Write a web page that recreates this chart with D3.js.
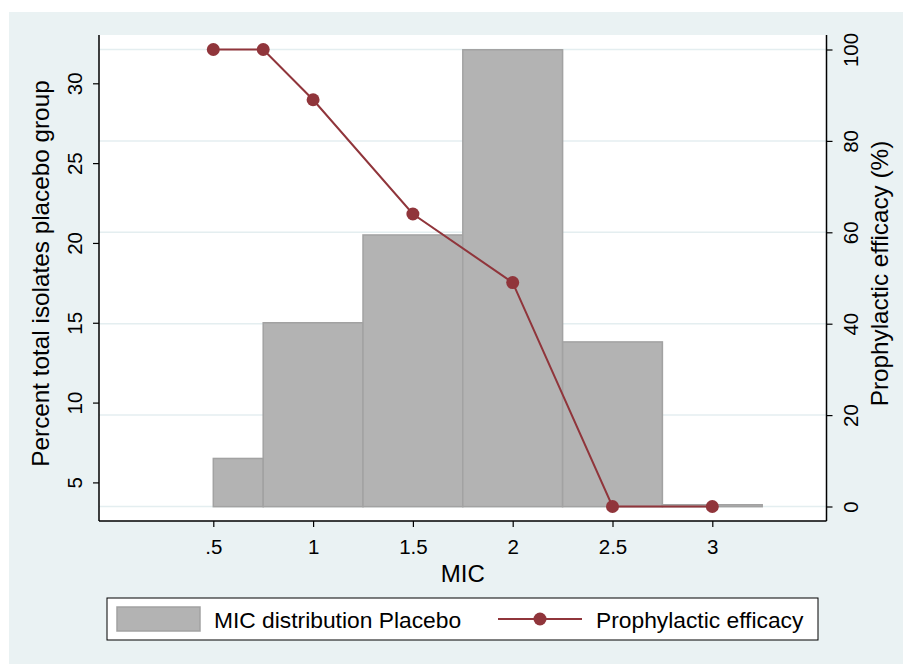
<!DOCTYPE html>
<html>
<head>
<meta charset="utf-8">
<script src="https://cdn.jsdelivr.net/npm/d3@7"></script>
<style>
  body { margin: 0; background: #fff; }
  text { font-family: "Liberation Sans", Arial, Helvetica, sans-serif; fill: #000; }
</style>
</head>
<body>
<div class="chart"></div>
<script>
// data
var micValues = [0.5, 1, 1.5, 2, 2.5, 3];
var barStart = [0.5, 0.75, 1.25, 1.75, 2.25, 2.75];
var barEnd = [0.75, 1.25, 1.75, 2.25, 2.75, 3.25];
var percentIsolates = [6.5, 15.0, 20.5, 32.1, 13.8, 3.6];
var barBase = 3.48;
var efficacyMic = [0.5, 0.75, 1, 1.5, 2, 2.5, 3];
var efficacy = [100, 100, 89, 64, 49, 0, 0];
var xTicks = [0.5, 1, 1.5, 2, 2.5, 3];
var xTickLabels = [".5", "1", "1.5", "2", "2.5", "3"];
var leftTicks = [5, 10, 15, 20, 25, 30];
var rightTicks = [0, 20, 40, 60, 80, 100];

var svgWidth = 903;
var svgHeight = 664;
var plot = {left: 99, right: 826.5, top: 35, bottom: 521};
var titleMid = 273.5;

var svg = d3.select('.chart')
    .append('svg')
    .attr('width', svgWidth)
    .attr('height', svgHeight);

// graph region
svg.append('rect')
    .attr('x', 9).attr('y', 12)
    .attr('width', svgWidth - 9).attr('height', svgHeight - 12)
    .attr('fill', '#eaf2f3');

svg.append('rect')
    .attr('x', plot.left).attr('y', plot.top)
    .attr('width', plot.right - plot.left).attr('height', plot.bottom - plot.top)
    .attr('fill', '#fff');

// scales
var xScale = d3.scaleLinear().domain([0.5, 3]).range([213.3, 712.3]);
var yLeft = d3.scaleLinear().domain([5, 30]).range([482.4, 83.3]);
var yRight = d3.scaleLinear().domain([0, 100]).range([506.5, 49.5]);

// grid from right axis
svg.append('g').selectAll('line')
    .data(rightTicks)
    .enter()
    .append('line')
    .attr('x1', plot.left).attr('x2', plot.right)
    .attr('y1', function(d) { return yRight(d); })
    .attr('y2', function(d) { return yRight(d); })
    .attr('stroke', '#e4eef0')
    .attr('stroke-width', 1.5);

// histogram bars
var bars = percentIsolates.map(function(v, i) {
    return {x0: barStart[i], x1: barEnd[i], value: v};
});
svg.append('g').selectAll('rect')
    .data(bars)
    .enter()
    .append('rect')
    .attr('x', function(d) { return xScale(d.x0); })
    .attr('width', function(d) { return xScale(d.x1) - xScale(d.x0); })
    .attr('y', function(d) { return yLeft(d.value); })
    .attr('height', function(d) { return yLeft(barBase) - yLeft(d.value); })
    .attr('fill', '#b3b3b3')
    .attr('stroke', '#a2a2a2')
    .attr('stroke-width', 1.5);

// efficacy line
var pts = efficacy.map(function(v, i) { return {x: efficacyMic[i], y: v}; });
var line = d3.line()
    .x(function(d) { return xScale(d.x); })
    .y(function(d) { return yRight(d.y); });
svg.append('path')
    .datum(pts)
    .attr('d', line)
    .attr('fill', 'none')
    .attr('stroke', '#90353b')
    .attr('stroke-width', 2);
svg.append('g').selectAll('circle')
    .data(pts)
    .enter()
    .append('circle')
    .attr('cx', function(d) { return xScale(d.x); })
    .attr('cy', function(d) { return yRight(d.y); })
    .attr('r', 6.5)
    .attr('fill', '#90353b');

// axes
var leftAxis = d3.axisLeft(yLeft).tickValues(leftTicks).tickSize(6).tickPadding(5);
var rightAxis = d3.axisRight(yRight).tickValues(rightTicks).tickSize(6).tickPadding(5);
var bottomAxis = d3.axisBottom(xScale).tickValues(xTicks)
    .tickFormat(function(d, i) { return xTickLabels[i]; })
    .tickSize(6).tickPadding(12);

var gl = svg.append('g')
    .attr('transform', 'translate(' + plot.left + ',0)')
    .call(leftAxis);
gl.select('.domain').attr('d', 'M0,' + plot.top + 'V' + plot.bottom);

var gr = svg.append('g')
    .attr('transform', 'translate(' + plot.right + ',0)')
    .call(rightAxis);
gr.select('.domain').attr('d', 'M0,' + plot.top + 'V' + plot.bottom);

var gb = svg.append('g')
    .attr('transform', 'translate(0,' + plot.bottom + ')')
    .call(bottomAxis);
gb.select('.domain').attr('d', 'M' + plot.left + ',0H' + plot.right);

svg.selectAll('.tick line').attr('stroke', '#000').attr('stroke-width', 1.2);
svg.selectAll('.domain').attr('stroke', '#000').attr('stroke-width', 1.5);
svg.selectAll('.tick text')
    .attr('font-family', '"Liberation Sans", Arial, sans-serif')
    .attr('font-size', 20.5)
    .attr('fill', '#000');

// rotate vertical tick labels
gl.selectAll('.tick text')
    .attr('x', null).attr('dy', null)
    .attr('text-anchor', 'middle')
    .attr('transform', 'translate(-17,0) rotate(-90)');
gr.selectAll('.tick text')
    .attr('x', null).attr('dy', null)
    .attr('text-anchor', 'middle')
    .attr('transform', 'translate(31.5,0) rotate(-90)');

// axis titles
svg.append('text')
    .attr('transform', 'translate(49,' + titleMid + ') rotate(-90)')
    .attr('text-anchor', 'middle')
    .style('font-size', '24.3px')
    .text('Percent total isolates placebo group');

svg.append('text')
    .attr('transform', 'translate(888,' + titleMid + ') rotate(-90)')
    .attr('text-anchor', 'middle')
    .style('font-size', '24.3px')
    .text('Prophylactic efficacy (%)');

svg.append('text')
    .attr('x', (plot.left + plot.right) / 2)
    .attr('y', 582)
    .attr('text-anchor', 'middle')
    .style('font-size', '24px')
    .text('MIC');

// legend
var legend = svg.append('g');
legend.append('rect')
    .attr('x', 107).attr('y', 598)
    .attr('width', 711).attr('height', 42)
    .attr('fill', '#fff')
    .attr('stroke', '#000')
    .attr('stroke-width', 1);
legend.append('rect')
    .attr('x', 117).attr('y', 607)
    .attr('width', 83).attr('height', 24)
    .attr('fill', '#b3b3b3')
    .attr('stroke', '#a2a2a2')
    .attr('stroke-width', 1.5);
legend.append('text')
    .attr('x', 214).attr('y', 628)
    .style('font-size', '22.8px')
    .text('MIC distribution Placebo');
legend.append('line')
    .attr('x1', 498).attr('x2', 582)
    .attr('y1', 619).attr('y2', 619)
    .attr('stroke', '#90353b')
    .attr('stroke-width', 2);
legend.append('circle')
    .attr('cx', 540).attr('cy', 619)
    .attr('r', 6.5)
    .attr('fill', '#90353b');
legend.append('text')
    .attr('x', 596).attr('y', 628)
    .style('font-size', '22.8px')
    .text('Prophylactic efficacy');
</script>
</body>
</html>
